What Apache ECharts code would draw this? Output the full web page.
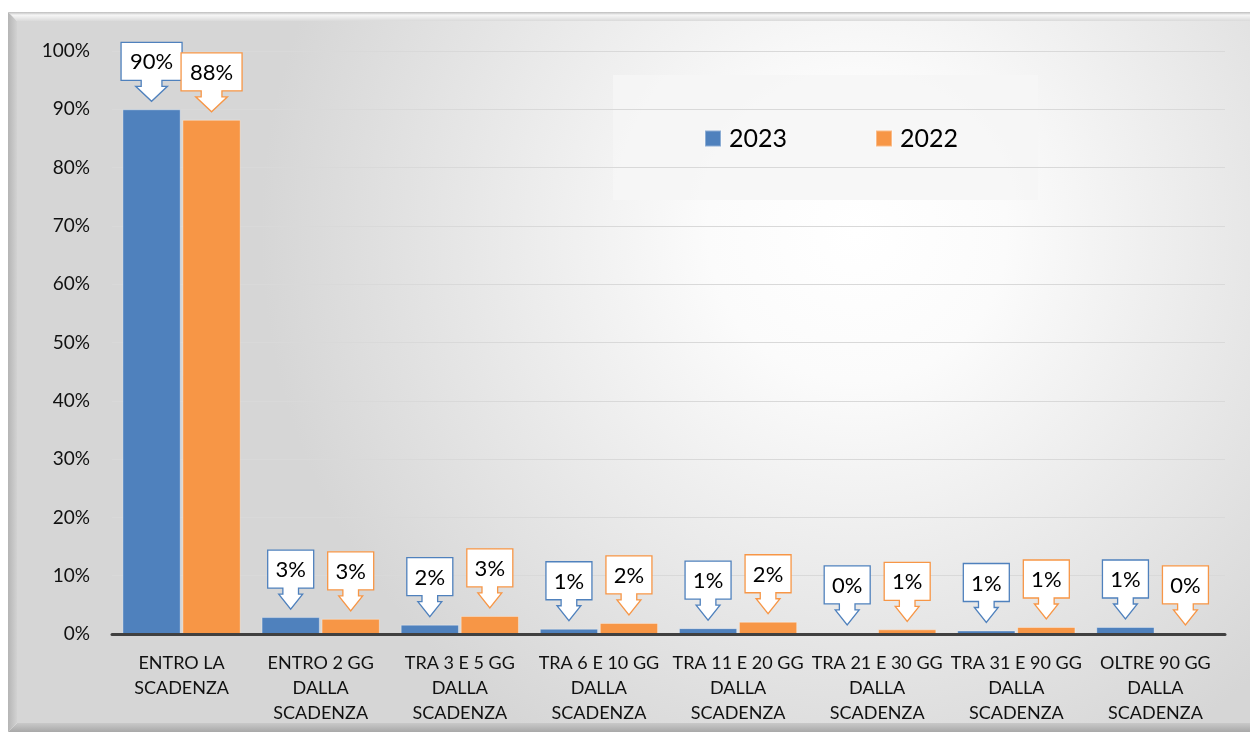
<!DOCTYPE html>
<html>
<head>
<meta charset="utf-8">
<script src="https://cdn.jsdelivr.net/npm/echarts@6/dist/echarts.min.js"></script>
<style>
html,body{margin:0;padding:0;background:#fff;}
#chart{width:1250px;height:738px;}
</style>
</head>
<body>
<div id="chart"></div>
<script>
const categories = [
  'ENTRO LA\nSCADENZA',
  'ENTRO 2 GG\nDALLA\nSCADENZA',
  'TRA 3 E 5 GG\nDALLA\nSCADENZA',
  'TRA 6 E 10 GG\nDALLA\nSCADENZA',
  'TRA 11 E 20 GG\nDALLA\nSCADENZA',
  'TRA 21 E 30 GG\nDALLA\nSCADENZA',
  'TRA 31 E 90 GG\nDALLA\nSCADENZA',
  'OLTRE 90 GG\nDALLA\nSCADENZA'
];
const values2023 = [90, 2.9, 1.6, 0.9, 1.0, 0.2, 0.6, 1.2];
const values2022 = [88.2, 2.6, 3.1, 1.9, 2.1, 0.8, 1.2, 0.2];
const seriesNames = ['2023', '2022'];
const yTicks = [0, 10, 20, 30, 40, 50, 60, 70, 80, 90, 100];

const BLUE = '#4F81BD';
const ORANGE = '#F79646';
const CAT_GAP = 0.15;
const BAR_GAP = 0.03;
const FONT = 'Lato, "Open Sans", sans-serif';

function calloutSeries(name, vals, color, side) {
  return {
    type: 'custom',
    name: name,
    z: 10,
    data: vals.map((v, i) => [i, v]),
    encode: { x: 0, y: 1 },
    renderItem: function (params, api) {
      const v = api.value(1);
      const pt = api.coord([api.value(0), v]);
      const band = api.size([1, 0])[0];
      const barW = band * (1 - CAT_GAP) / (2 + BAR_GAP);
      const cx = pt[0] + side * (barW * (1 + BAR_GAP)) / 2;
      const txt = Math.round(v) + '%';
      const w = 16 + 15 * txt.length;
      const h = 38;
      const tip = pt[1] - 8;
      const headH = 15, shaftH = 6;
      const bottom = tip - headH - shaftH;
      const top = bottom - h;
      const sw = w * 0.34 / 2, hw = w * 0.52 / 2;
      const pts = [
        [cx - w / 2, top], [cx + w / 2, top], [cx + w / 2, bottom],
        [cx + sw, bottom], [cx + sw, bottom + shaftH], [cx + hw, bottom + shaftH],
        [cx, tip], [cx - hw, bottom + shaftH], [cx - sw, bottom + shaftH],
        [cx - sw, bottom], [cx - w / 2, bottom]
      ];
      return {
        type: 'group',
        children: [
          { type: 'polygon', shape: { points: pts },
            style: { fill: '#ffffff', stroke: color, lineWidth: 1.3 } },
          { type: 'text', style: { text: txt, x: cx, y: top + h / 2 + 1,
            align: 'center', verticalAlign: 'middle',
            fill: '#000', font: '22px ' + FONT } }
        ]
      };
    }
  };
}

const chart = echarts.init(document.getElementById('chart'), null, { renderer: 'canvas' });

const X0 = 8, Y0 = 12, X1 = 1262, Y1 = 732, B = 9;
const option = {
  animation: false,
  backgroundColor: '#ffffff',
  graphic: [
    { type: 'polygon', z: -20, silent: true,
      shape: { points: [[X0, Y0], [X1, Y0], [X1 - B, Y0 + B], [X0 + B, Y0 + B]] },
      style: { fill: new echarts.graphic.LinearGradient(0, 0, 0, 1, [
        { offset: 0, color: '#bdbdbd' }, { offset: 0.35, color: '#f6f6f6' }, { offset: 1, color: '#dadada' }]) } },
    { type: 'polygon', z: -20, silent: true,
      shape: { points: [[X0, Y0], [X0 + B, Y0 + B], [X0 + B, Y1 - B], [X0, Y1]] },
      style: { fill: new echarts.graphic.LinearGradient(0, 0, 1, 0, [
        { offset: 0, color: '#b5b5b5' }, { offset: 1, color: '#d2d2d2' }]) } },
    { type: 'polygon', z: -20, silent: true,
      shape: { points: [[X0, Y1], [X0 + B, Y1 - B], [X1 - B, Y1 - B], [X1, Y1]] },
      style: { fill: new echarts.graphic.LinearGradient(0, 0, 0, 1, [
        { offset: 0, color: '#c9c9c9' }, { offset: 1, color: '#a8a8a8' }]) } },
    { type: 'rect', z: -20, silent: true,
      shape: { x: X0 + B, y: Y0 + B, width: X1 - X0 - 2 * B, height: Y1 - Y0 - 2 * B },
      style: { fill: new echarts.graphic.RadialGradient(0.68, 0.3, 0.85, [
        { offset: 0, color: '#ffffff' }, { offset: 0.25, color: '#fbfbfb' },
        { offset: 1, color: '#d6d6d6' }]) } },
    { type: 'rect', z: -5, silent: true,
      shape: { x: 613, y: 75, width: 425, height: 125 },
      style: { fill: 'rgba(246,246,246,0.85)' } }
  ],
  grid: { left: 112, right: 25, top: 51, bottom: 104, containLabel: false },
  legend: {
    data: seriesNames,
    left: 699, top: 121,
    itemWidth: 16, itemHeight: 16, itemGap: 88,
    icon: 'rect',
    textStyle: { fontSize: 25, fontFamily: FONT, color: '#000', padding: [0, 0, 0, 3] }
  },
  xAxis: {
    type: 'category',
    data: categories,
    axisLine: { show: true, lineStyle: { color: '#404040', width: 3 } },
    axisTick: { show: false },
    axisLabel: { interval: 0, margin: 17, fontSize: 18, lineHeight: 25,
      color: '#111', fontFamily: FONT, align: 'center' },
    z: 5
  },
  yAxis: {
    type: 'value',
    min: yTicks[0], max: yTicks[yTicks.length - 1], interval: yTicks[1] - yTicks[0],
    axisLine: { show: false },
    axisTick: { show: false },
    axisLabel: { formatter: '{value}%', margin: 22, fontSize: 19, color: '#111', fontFamily: FONT },
    splitLine: { lineStyle: { color: '#d9d9d9', width: 1.2 } }
  },
  series: [
    { type: 'bar', name: seriesNames[0], data: values2023, barCategoryGap: (CAT_GAP * 100) + '%',
      barGap: (BAR_GAP * 100) + '%',
      itemStyle: { color: BLUE, borderColor: 'rgba(255,255,255,0.35)', borderWidth: 1 } },
    { type: 'bar', name: seriesNames[1], data: values2022, barCategoryGap: (CAT_GAP * 100) + '%',
      barGap: (BAR_GAP * 100) + '%',
      itemStyle: { color: ORANGE, borderColor: 'rgba(255,255,255,0.35)', borderWidth: 1 } },
    calloutSeries('lbl2023', values2023, BLUE, -1),
    calloutSeries('lbl2022', values2022, ORANGE, 1)
  ]
};
chart.setOption(option);
</script>
</body>
</html>
